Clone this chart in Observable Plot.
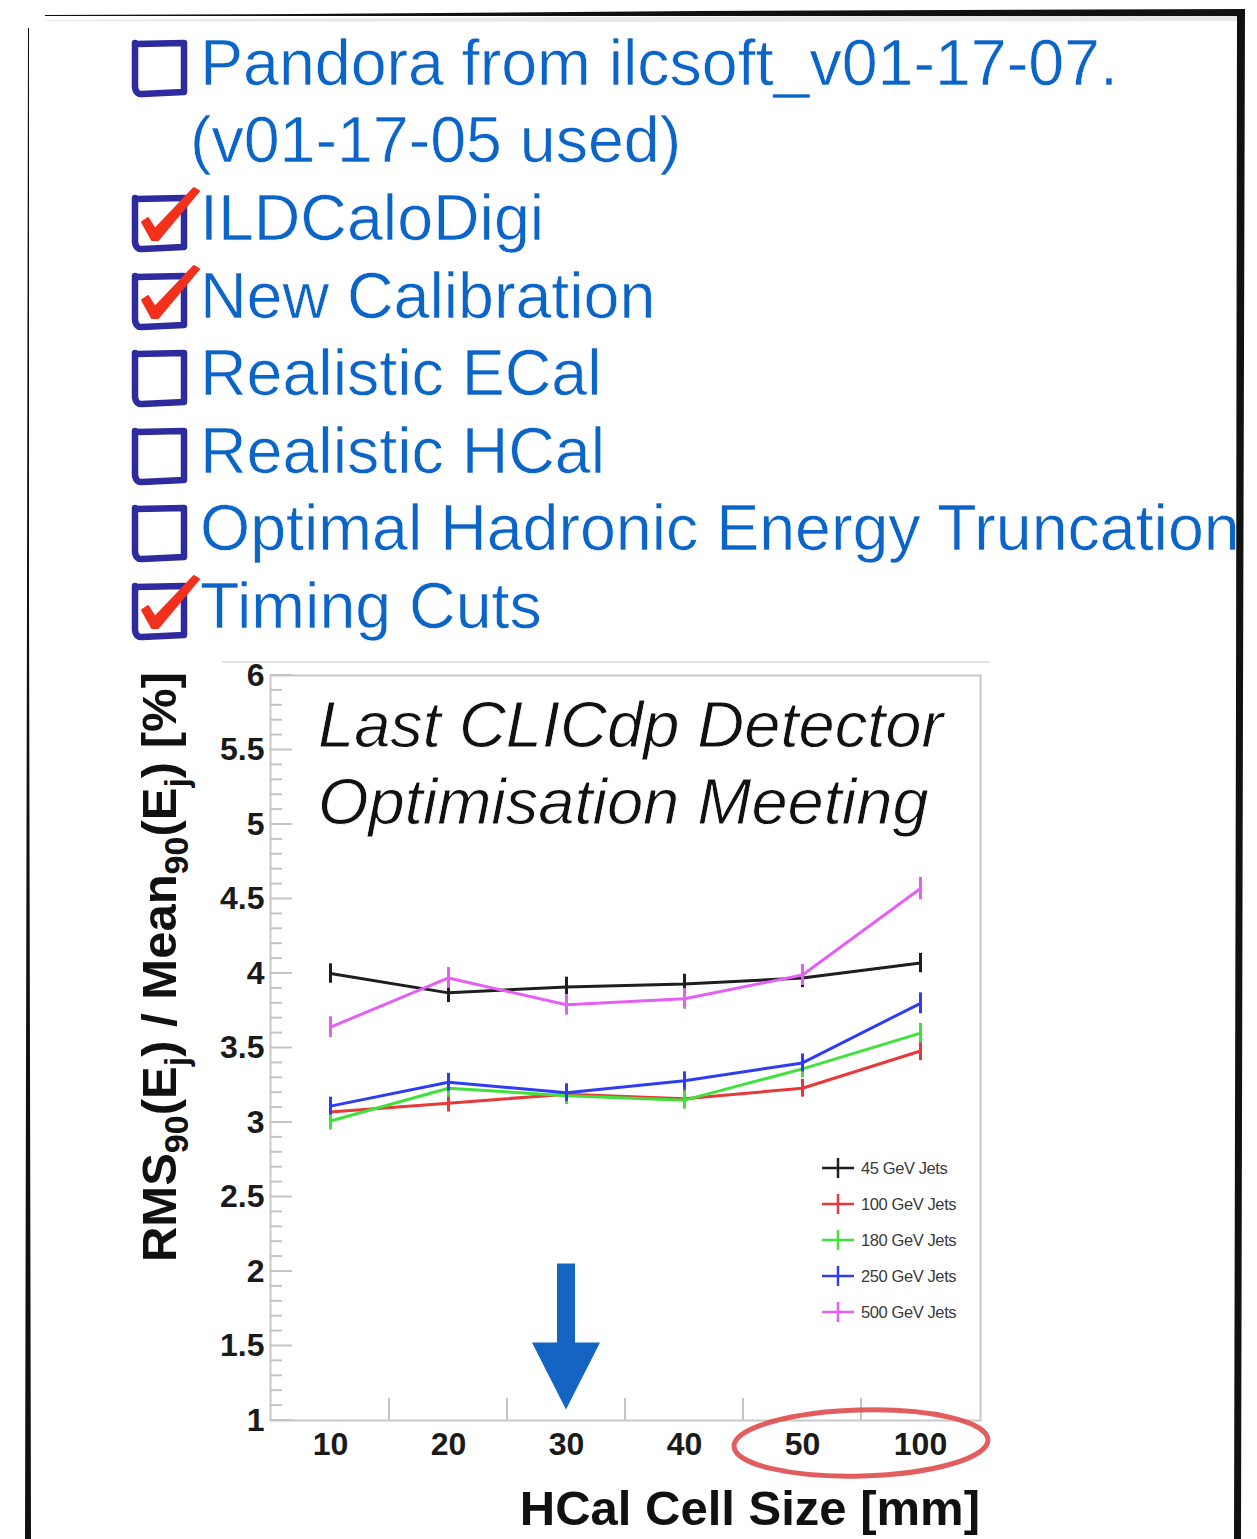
<!DOCTYPE html>
<html><head><meta charset="utf-8">
<script src="https://cdn.jsdelivr.net/npm/d3@7"></script>
<script src="https://cdn.jsdelivr.net/npm/@observablehq/plot@0.6"></script>
<style>
html,body{margin:0;padding:0;background:#fff;}
#page{position:relative;width:1257px;height:1539px;overflow:hidden;background:#fff;}
#page > svg{position:absolute;left:0;top:0;}
</style></head><body><div id="page"></div>
<script>
// ---- data ----
const cellSizes = ["10", "20", "30", "40", "50", "100"];
const seriesNames = ["45 GeV Jets", "100 GeV Jets", "180 GeV Jets", "250 GeV Jets", "500 GeV Jets"];
const seriesColors = ["#1e1e1e", "#e8383a", "#3fe23b", "#2f3cf2", "#e45ff4"];
const jets45  = [4.00, 3.87, 3.91, 3.93, 3.97, 4.07];
const jets100 = [3.07, 3.13, 3.19, 3.16, 3.23, 3.48];
const jets180 = [3.01, 3.23, 3.18, 3.15, 3.36, 3.60];
const jets250 = [3.11, 3.27, 3.20, 3.28, 3.40, 3.80];
const jets500 = [3.64, 3.97, 3.79, 3.83, 3.99, 4.57];
const err45  = [0.065, 0.065, 0.065, 0.065, 0.065, 0.065];
const err100 = [0.06, 0.06, 0.06, 0.06, 0.06, 0.065];
const err180 = [0.06, 0.06, 0.06, 0.06, 0.06, 0.065];
const err250 = [0.06, 0.06, 0.06, 0.06, 0.06, 0.07];
const err500 = [0.07, 0.07, 0.07, 0.07, 0.07, 0.075];
const yTicks = [1, 1.5, 2, 2.5, 3, 3.5, 4, 4.5, 5, 5.5, 6];
const xTitle = "HCal Cell Size [mm]";
const noteLines = ["Last CLICdp Detector", "Optimisation Meeting"];
const arrowAt = "30", arrowFrom = 2.05, arrowHead = 1.52, arrowTo = 1.07;
const circled = ["50", "100"];
const checklistText = ["Pandora from ilcsoft_v01-17-07.", "(v01-17-05 used)", "ILDCaloDigi", "New Calibration",
  "Realistic ECal", "Realistic HCal", "Optimal Hadronic Energy Truncation", "Timing Cuts"];
const checklistBox = [true, false, true, true, true, true, true, true];
const checklistChecked = [false, false, true, true, false, false, false, true];

const seriesValues = [jets45, jets100, jets180, jets250, jets500];
const seriesErrors = [err45, err100, err180, err250, err500];
const rows = [];
seriesNames.forEach((s, i) => cellSizes.forEach((c, j) =>
  rows.push({series: s, size: c, value: seriesValues[i][j], err: seriesErrors[i][j]})));

const page = d3.select("#page");
const BLUE = "#0b64c8";
const FONT = "'Liberation Sans', Arial, sans-serif";

// ---- checklist ----
const cl = page.append("svg").attr("width", 1257).attr("height", 1539);
const baselines = [85, 162, 240, 318, 395, 473, 550, 628];
checklistText.forEach((t, i) => {
  const b = baselines[i];
  cl.append("text").attr("x", checklistBox[i] ? 200 : 190).attr("y", b)
    .attr("text-anchor", "start")
    .attr("font-family", FONT).attr("font-size", 64.5)
    .attr("fill", BLUE).attr("stroke", "#fff").attr("stroke-width", 0.6).text(t);
  if (checklistBox[i]) {
    const x0 = 134, top = b - 42;
    cl.append("path")
      .attr("d", `M${x0+2},${top+1} L${x0+50},${top} L${x0+50},${top+49} L${x0+8},${top+51} M${x0+1},${top} L${x0+1},${top+44} Q${x0+2},${top+52} ${x0+9},${top+51}`)
      .attr("fill", "none").attr("stroke", "#2e2b9e").attr("stroke-width", 6.5)
      .attr("stroke-linejoin", "round").attr("stroke-linecap", "round");
    if (checklistChecked[i]) {
      cl.append("path")
        .attr("d", `M${x0+8},${top+24} L${x0+14},${top+20} L${x0+21},${top+31} L${x0+60},${top-10} L${x0+65},${top-7} L${x0+24},${top+42} L${x0+18},${top+42} Z`)
        .attr("fill", "#f2301c").attr("stroke", "#f2301c").attr("stroke-width", 2).attr("stroke-linejoin", "round");
    }
  }
});
// top edge of pasted plot image
cl.append("line").attr("x1", 222).attr("x2", 990).attr("y1", 662).attr("y2", 662)
  .attr("stroke", "#e2e2e2").attr("stroke-width", 2);

// ---- plot annotations (custom render mark) ----
function decorations(index, scales, values, dims) {
  const {x, y} = scales;
  const g = d3.create("svg:g").attr("text-anchor", "start");
  const L = dims.marginLeft, R = dims.width - dims.marginRight, T = dims.marginTop, B = dims.height - dims.marginBottom;
  const step = x(cellSizes[1]) - x(cellSizes[0]);
  const tickCol = "#c4c4c4";
  for (let k = 10; k <= 60; k++) {
    const v = k / 10, major = k % 5 === 0;
    g.append("line").attr("x1", L).attr("x2", L + (major ? 22 : 12)).attr("y1", y(v)).attr("y2", y(v))
      .attr("stroke", tickCol).attr("stroke-width", 2);
  }
  for (let i = 1; i < cellSizes.length; i++) {
    const xb = x(cellSizes[i]) - step / 2;
    g.append("line").attr("x1", xb).attr("x2", xb).attr("y1", B).attr("y2", B - 22)
      .attr("stroke", tickCol).attr("stroke-width", 2);
  }
  // note text
  noteLines.forEach((t, i) => g.append("text").attr("x", L + 48).attr("y", T + 72 + i * 77)
    .attr("text-anchor", "start")
    .attr("font-family", FONT).attr("font-style", "italic")
    .attr("font-size", 65).attr("fill", "#111").attr("stroke", "#fff").attr("stroke-width", 0.8)
    .text(t));
  // arrow
  const cx = x(arrowAt);
  g.append("path").attr("d",
    `M${cx-9},${y(arrowFrom)} L${cx+9},${y(arrowFrom)} L${cx+9},${y(arrowHead)} L${cx+34},${y(arrowHead)} L${cx},${y(arrowTo)} L${cx-34},${y(arrowHead)} L${cx-9},${y(arrowHead)} Z`)
    .attr("fill", "#1464c4");
  // ellipse around circled labels
  const ex = (x(circled[0]) + x(circled[1])) / 2;
  g.append("ellipse").attr("cx", ex).attr("cy", B + 23).attr("rx", 127).attr("ry", 33)
    .attr("transform", `rotate(-1.5 ${ex} ${B + 23})`)
    .attr("fill", "none").attr("stroke", "#e05050").attr("stroke-width", 5).attr("opacity", 0.92);
  // legend
  seriesNames.forEach((s, i) => {
    const lx = R - 142, ly = B - 252 + i * 36;
    g.append("line").attr("x1", lx - 16).attr("x2", lx + 16).attr("y1", ly).attr("y2", ly)
      .attr("stroke", seriesColors[i]).attr("stroke-width", 2.5);
    g.append("line").attr("x1", lx).attr("x2", lx).attr("y1", ly - 10).attr("y2", ly + 10)
      .attr("stroke", seriesColors[i]).attr("stroke-width", 2.5);
    g.append("text").attr("x", lx + 23).attr("y", ly).attr("dy", "0.35em").attr("text-anchor", "start")
      .attr("font-family", FONT).attr("font-size", 16.5)
      .attr("letter-spacing", -0.4).attr("fill", "#3a3a3a").text(s);
  });
  // axis titles
  g.append("text").attr("x", R).attr("y", B + 105).attr("text-anchor", "end")
    .attr("font-family", FONT).attr("font-weight", "bold")
    .attr("font-size", 49).attr("fill", "#111").text(xTitle);
  const yt = g.append("text").attr("transform", `translate(176,${T - 3}) rotate(-90)`).attr("text-anchor", "end")
    .attr("font-family", FONT).attr("font-weight", "bold")
    .attr("font-size", 49).attr("fill", "#111");
  const parts = [["RMS", 0], ["90", 1], ["(E", 0], ["j", 1], [") / Mean", 0], ["90", 1], ["(E", 0], ["j", 1], [") [%]", 0]];
  let prevSub = 0;
  parts.forEach(([t, sub]) => {
    const ts = yt.append("tspan").text(t);
    if (sub) ts.attr("font-size", 34);
    const d = (sub ? 12 : 0) - (prevSub ? 12 : 0);
    if (d) ts.attr("dy", d);
    prevSub = sub;
  });
  return g.node();
}

const plot = Plot.plot({
  width: 1257, height: 1539,
  marginTop: 675, marginBottom: 119, marginLeft: 270, marginRight: 277,
  style: {background: "transparent", fontFamily: FONT, overflow: "visible"},
  x: {type: "point", domain: cellSizes, padding: 0.5, label: null},
  y: {domain: [1, 6], label: null},
  color: {domain: seriesNames, range: seriesColors},
  marks: [
    Plot.frame({stroke: "#c8c8c8", strokeWidth: 2}),
    Plot.axisY({ticks: yTicks, tickSize: 0, tickPadding: 6, tickFormat: d => String(d), fontSize: 32, fontWeight: "bold", fill: "#1a1a1a", label: null}),
    Plot.axisX({tickSize: 0, tickPadding: 12, fontSize: 32, fontWeight: "bold", fill: "#1a1a1a", label: null}),
    Plot.line(rows, {x: "size", y: "value", z: "series", stroke: "series", strokeWidth: 3}),
    Plot.ruleX(rows, {x: "size", y1: d => d.value - d.err, y2: d => d.value + d.err, stroke: "series", strokeWidth: 3}),
    decorations
  ]
});
d3.select(plot).selectAll('g[aria-label$="tick label"]').attr("font-weight", "bold");
page.node().appendChild(plot);

// ---- hand-drawn slide frame ----
const fr = page.append("svg").attr("width", 1257).attr("height", 1539);
fr.append("path").attr("d", "M45,20 L600,17 L1245,15 L1245,21 L600,22 L45,21 Z").attr("fill", "#d8d8d8").attr("opacity", 0.6);
fr.append("path").attr("d", "M45,15 L300,14 L700,11 L1245,9 L1245,16 L700,16 L300,16 L45,16 Z").attr("fill", "#111");
fr.append("path").attr("d", "M1237,10 L1245,10 L1243,700 L1241,1539 L1234,1539 L1236,700 Z").attr("fill", "#111");
fr.append("path").attr("d", "M28,28 L29,28 L29,600 L31,1539 L25,1539 L27,600 Z").attr("fill", "#111");
</script></body></html>
